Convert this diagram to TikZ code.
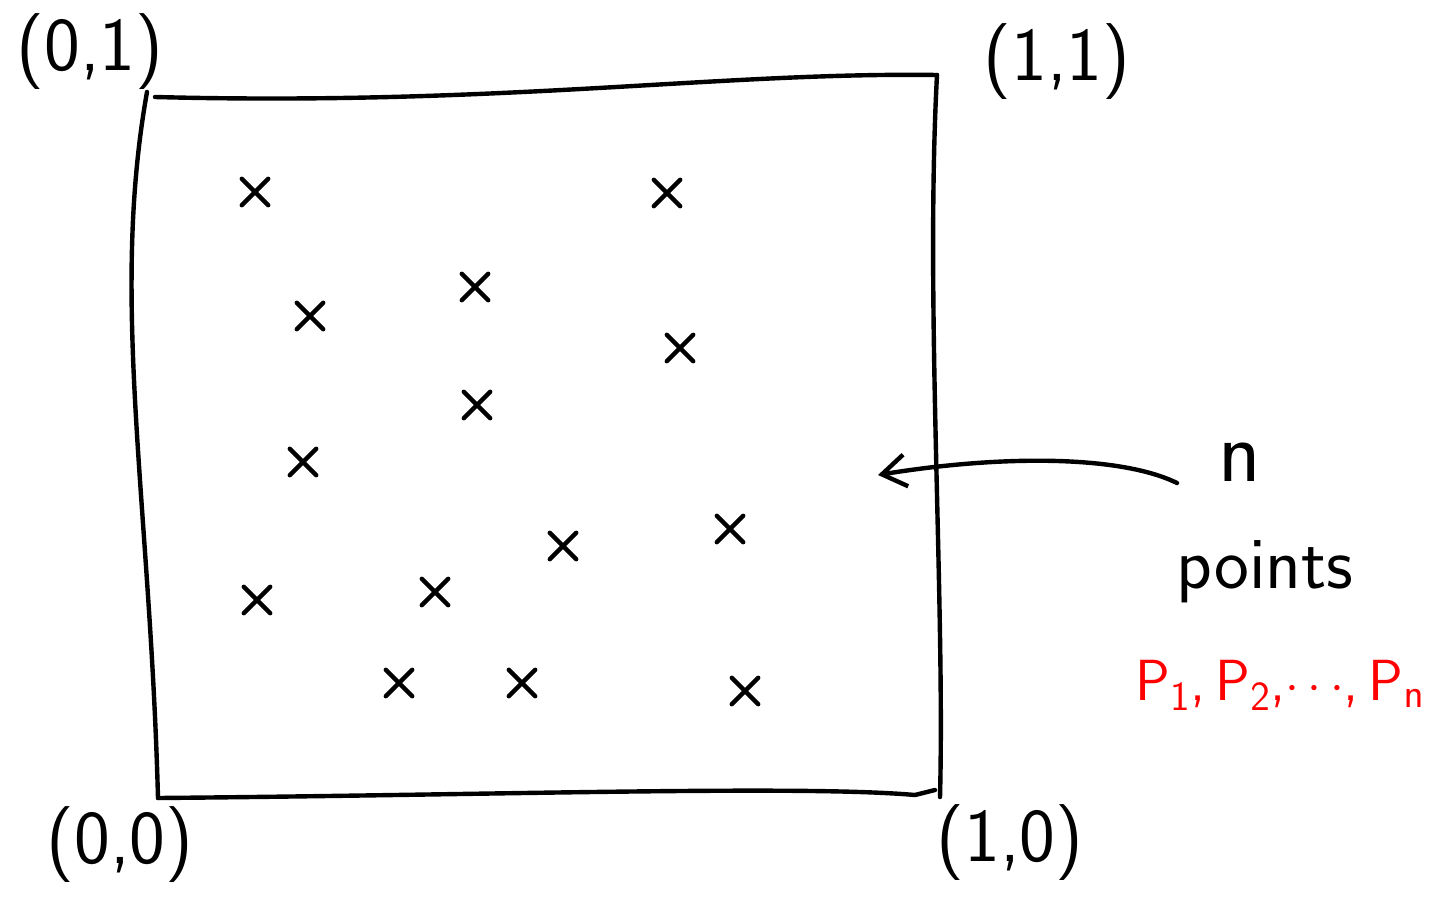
\documentclass[tikz,border=0pt]{standalone}
\usetikzlibrary{shapes.misc,arrows.meta}
\begin{document}
\begin{tikzpicture}[x=0.5pt,y=-0.5pt,line width=2.2pt,line cap=round,line join=round,
  xmark/.style={cross out,draw,minimum size=11pt,inner sep=0pt,line width=2.2pt},
  corner/.style={font=\sffamily\fontsize{38}{42}\selectfont},
  lbl/.style={font=\sffamily\fontsize{37}{42}\selectfont}]
\useasboundingbox (0,0) rectangle (1429,904);
% square corners
\coordinate (TL) at (147,92);
\coordinate (TR) at (937,75);
\coordinate (BR) at (940,797);
\coordinate (BL) at (158,798);
\draw (155,97) .. controls (500,106) and (720,72) .. (TR);
\draw (TL) .. controls (110,300) and (150,500) .. (BL);
\draw (TR) .. controls (925,300) and (945,600) .. (BR);
\draw (BL) .. controls (500,795) and (800,785) .. (915,795) -- (935,790);
% corner labels
\node[corner] (c01) at (90,52) {(0,1)};
\node[corner] (c11) at (1057,62) {(1,1)};
\node[corner] (c00) at (120,845) {(0,0)};
\node[corner] (c10) at (1010,843) {(1,0)};
% points
\foreach \i/\x/\y in {1/255/192,2/667/193,3/310/316,4/475/287,5/680/348,6/477/405,7/303/462,8/563/546,9/730/529,10/257/600,11/435/592,12/399/683,13/522/683,14/745/691}
  \node[xmark] (p\i) at (\x,\y) {};
% label and arrow
\node[font=\sffamily\fontsize{44}{50}\selectfont] (n) at (1240,462) {n};
\node[lbl,anchor=center] (pts) at (1265,572) {points};
\node[text=red,anchor=center,font=\sffamily\fontsize{29}{34}\selectfont,inner sep=0pt] (pl) at (1280,685) {P$_{\mathsf{1}}$,\,P$_{\mathsf{2}}$,$\cdots$,\,P$_{\mathsf{n}}$};
\coordinate (tip) at (878,475);
\draw[-{Straight Barb[length=12pt,width=16pt]}] (1177,483) .. controls (1120,455) and (1000,455) .. (tip);
\end{tikzpicture}
\end{document}
